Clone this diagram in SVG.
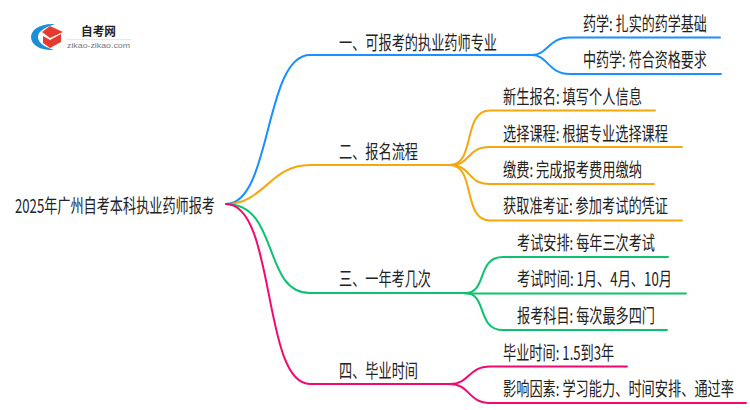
<svg xmlns="http://www.w3.org/2000/svg" width="750" height="410" viewBox="0 0 750 410">
<style>
text{font-family:"Noto Sans CJK SC","Liberation Sans",sans-serif;font-size:19px;fill:#222}
.c{fill:none;stroke-width:2;stroke-linecap:round}
.b{stroke:#1890ff}.o{stroke:#f5a70d}.g{stroke:#0cc16f}.p{stroke:#f5086e}
</style>
<rect width="750" height="410" fill="#fff"/>
<g id="connectors">
<path class="c b" d="M226 204C272 204 264 55 310 55H532"/>
<path class="c o" d="M226 204C264 204 270 165 310 165H450"/>
<path class="c g" d="M226 204C280 204 262 293 310 293H465"/>
<path class="c p" d="M226 204C276 204 262 384 310 384H450"/>
<path class="c b" d="M532 55C548 55 548 37.500 570 37.500H720"/>
<path class="c b" d="M532 55C548 55 548 74 570 74H721"/>
<path class="c o" d="M450 165C476 165 462 110.500 490 110.500H655"/>
<path class="c o" d="M450 165C472 165 466 147 490 147H682"/>
<path class="c o" d="M450 165C472 165 466 184 490 184H654"/>
<path class="c o" d="M450 165C476 165 462 220.500 490 220.500H682"/>
<path class="c g" d="M465 293C488 293 476 257 503 257H668"/>
<path class="c g" d="M465 293.500H686"/>
<path class="c g" d="M465 293C488 293 476 330 503 330H667"/>
<path class="c p" d="M450 384C470 384 468 366.500 490 366.500H627"/>
<path class="c p" d="M450 384C470 384 468 403 490 403H746"/>
</g>
<g id="logo">
<path d="M55 24C40 23 31 30 31 37C31 45 41 51 54 50C45 47 38 43 38 37C38 31 46 27 55 24Z" fill="#1a8fd8"/>
<path d="M50 26 63 32 50 38 42 32Z" fill="#e8392f"/>
<path d="M43 36 50 40 61 34V42L50 48 43 43Z" fill="#e8392f"/>
<text x="81" y="36" textLength="35" lengthAdjust="spacingAndGlyphs" style="font-size:12px;font-weight:700">自考网</text>
<rect x="66" y="39" width="65" height="1" fill="#e8e8e8"/>
<text x="67" y="48" textLength="63" lengthAdjust="spacingAndGlyphs" style="font-size:8px;fill:#777;font-family:'Liberation Sans',sans-serif">zikao-zikao.com</text>
</g>
<g id="root"><text transform="translate(15 213) scale(.7 1)" textLength="285.700" lengthAdjust="spacingAndGlyphs">2025年广州自考本科执业药师报考</text></g>
<g id="n1"><text transform="translate(339 50) scale(.7 1)" textLength="225.700" lengthAdjust="spacingAndGlyphs">一、可报考的执业药师专业</text></g>
<g id="n2"><text transform="translate(339 159) scale(.7 1)" textLength="112.900" lengthAdjust="spacingAndGlyphs">二、报名流程</text></g>
<g id="n3"><text transform="translate(339 286) scale(.7 1)" textLength="131.400" lengthAdjust="spacingAndGlyphs">三、一年考几次</text></g>
<g id="n4"><text transform="translate(339 378) scale(.7 1)" textLength="112.900" lengthAdjust="spacingAndGlyphs">四、毕业时间</text></g>
<g id="n1a"><text transform="translate(583 31) scale(.7 1)" textLength="177" lengthAdjust="spacingAndGlyphs">药学: 扎实的药学基础</text></g>
<g id="n1b"><text transform="translate(583 67) scale(.7 1)" textLength="177" lengthAdjust="spacingAndGlyphs">中药学: 符合资格要求</text></g>
<g id="n2a"><text transform="translate(503 104) scale(.7 1)" textLength="198.500" lengthAdjust="spacingAndGlyphs">新生报名: 填写个人信息</text></g>
<g id="n2b"><text transform="translate(503 141) scale(.7 1)" textLength="235.700" lengthAdjust="spacingAndGlyphs">选择课程: 根据专业选择课程</text></g>
<g id="n2c"><text transform="translate(503 177) scale(.7 1)" textLength="198.500" lengthAdjust="spacingAndGlyphs">缴费: 完成报考费用缴纳</text></g>
<g id="n2d"><text transform="translate(503 213) scale(.7 1)" textLength="235.700" lengthAdjust="spacingAndGlyphs">获取准考证: 参加考试的凭证</text></g>
<g id="n3a"><text transform="translate(517 250) scale(.7 1)" textLength="197.100" lengthAdjust="spacingAndGlyphs">考试安排: 每年三次考试</text></g>
<g id="n3b"><text transform="translate(517 286) scale(.7 1)" textLength="221.400" lengthAdjust="spacingAndGlyphs">考试时间: 1月、4月、10月</text></g>
<g id="n3c"><text transform="translate(517 323) scale(.7 1)" textLength="197.100" lengthAdjust="spacingAndGlyphs">报考科目: 每次最多四门</text></g>
<g id="n4a"><text transform="translate(503 360) scale(.7 1)" textLength="159" lengthAdjust="spacingAndGlyphs">毕业时间: 1.5到3年</text></g>
<g id="n4b"><text transform="translate(503 396) scale(.7 1)" textLength="330" lengthAdjust="spacingAndGlyphs">影响因素: 学习能力、时间安排、通过率</text></g>
</svg>
